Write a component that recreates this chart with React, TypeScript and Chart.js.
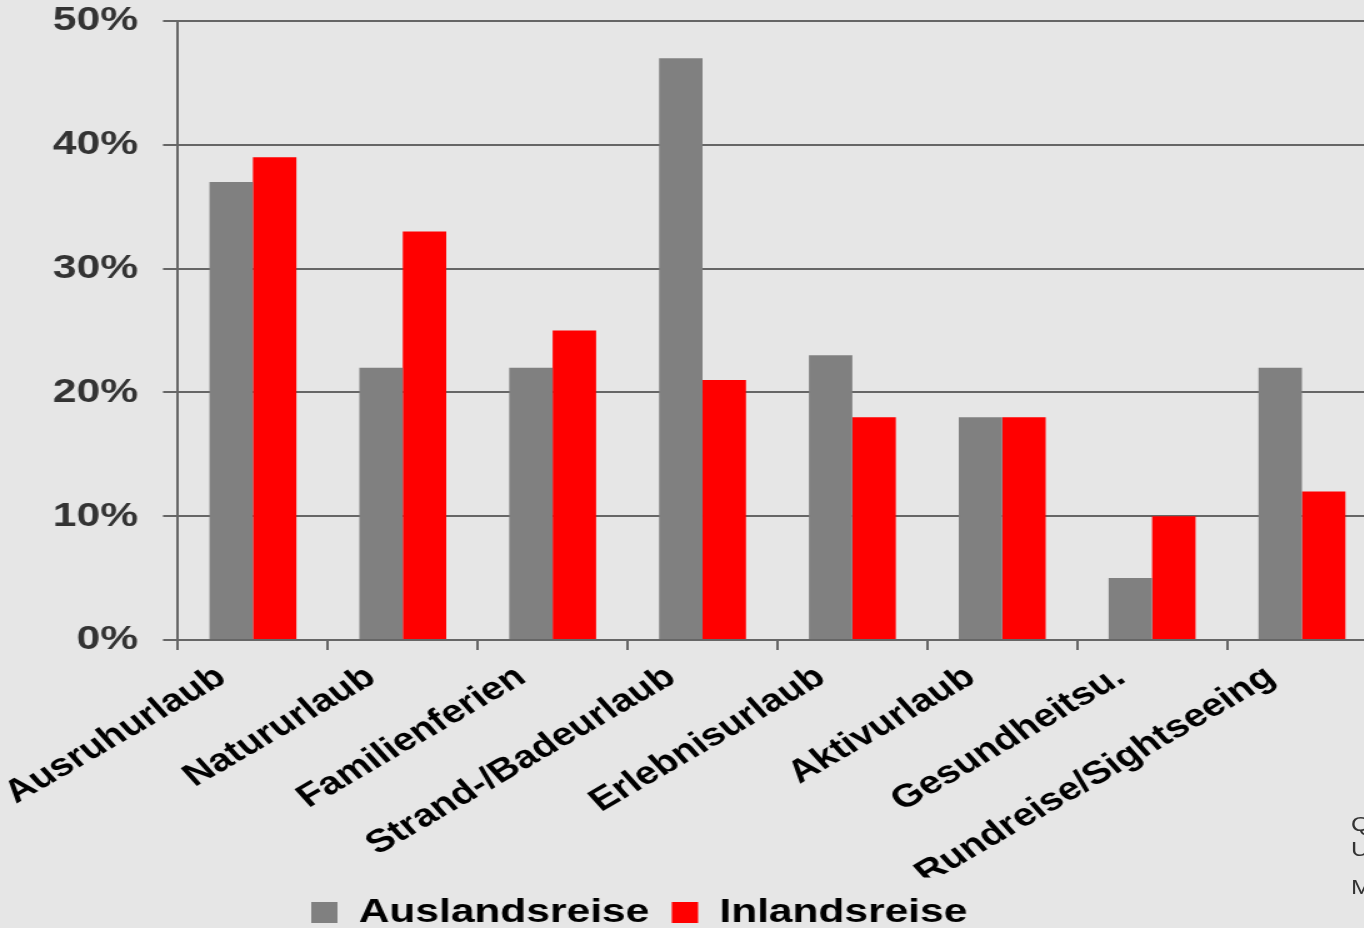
import React, { useEffect, useRef } from "react";
import { Chart, registerables } from "chart.js";

Chart.register(...registerables);

// ---- data ----
const categories = [
  "Ausruhurlaub",
  "Natururlaub",
  "Familienferien",
  "Strand-/Badeurlaub",
  "Erlebnisurlaub",
  "Aktivurlaub",
  "Gesundheitsu.",
  "Rundreise/Sightseeing",
];
const auslandsreise = [37, 22, 22, 47, 23, 18, 5, 22];
const inlandsreise = [39, 33, 25, 21, 18, 18, 10, 12];
const seriesNames = ["Auslandsreise", "Inlandsreise"];
const yTickValues = [0, 10, 20, 30, 40, 50];
const sourceLines = ["Q", "U", "M"];

// ---- layout constants ----
const SX = 1.25; // horizontal stretch of the reference picture
const W = 1110;
const H = 942;
const FONT = "'Liberation Sans', Arial, Helvetica, sans-serif";

export default function App() {
  const ref = useRef<HTMLCanvasElement>(null);

  useEffect(() => {
    const canvas = ref.current;
    if (!canvas) return;

    const legendShift = {
      id: "legendShift",
      afterLayout(chart: any) {
        const lg = chart.legend;
        if (lg) {
          const w = lg.right - lg.left;
          lg.left = 231;
          lg.right = 231 + w;
        }
      },
    };

    const chart = new Chart(canvas, {
      type: "bar",
      data: {
        labels: categories,
        datasets: [
          {
            label: seriesNames[0],
            data: auslandsreise,
            backgroundColor: "#808080",
          },
          {
            label: seriesNames[1],
            data: inlandsreise,
            backgroundColor: "#ff0000",
          },
        ],
      },
      options: {
        responsive: false,
        maintainAspectRatio: false,
        animation: false,
        devicePixelRatio: 1,
        layout: {
          padding: { left: 41.4, right: W - 1101.5, top: 21, bottom: 2.5 },
        },
        datasets: {
          bar: { categoryPercentage: 0.58, barPercentage: 1 },
        },
        plugins: {
          legend: {
            position: "bottom",
            align: "start",
            labels: {
              boxWidth: 21,
              boxHeight: 21,
              padding: 18,
              color: "#000",
              font: { family: FONT, size: 34, weight: "bold" },
            },
          },
          tooltip: { enabled: false },
        },
        scales: {
          x: {
            grid: {
              offset: true,
              drawOnChartArea: false,
              drawTicks: true,
              tickLength: 10,
              color: "#666",
              lineWidth: 2,
            },
            border: { display: true, color: "#666", width: 2 },
            ticks: {
              autoSkip: false,
              minRotation: 36,
              maxRotation: 36,
              labelOffset: -25,
              color: "#000",
              padding: 8,
              font: { family: FONT, size: 32, weight: "bold" },
            },
            afterFit(s: any) {
              s.height = 237.5;
            },
          },
          y: {
            min: 0,
            max: 50,
            afterBuildTicks(s: any) {
              s.ticks = yTickValues.map((v) => ({ value: v }));
            },
            ticks: {
              stepSize: 10,
              callback: (v: any) => v + "%",
              color: "#333",
              padding: 20,
              font: { family: FONT, size: 34, weight: "bold" },
            },
            grid: {
              color: "#666",
              lineWidth: 2,
              tickLength: 12,
              drawTicks: true,
            },
            border: { display: true, color: "#666", width: 2 },
            afterFit(s: any) {
              s.width = 101;
              s.paddingTop = 0;
              s.paddingBottom = 0;
            },
          },
        },
      },
      plugins: [legendShift],
    } as any);

    return () => chart.destroy();
  }, []);

  const srcTops = [817, 842, 880];

  return (
    <div
      style={{
        position: "fixed",
        left: 0,
        top: 0,
        width: 1364,
        height: 928,
        overflow: "hidden",
        background: "#e6e6e6",
      }}
    >
      <div
        style={{
          position: "absolute",
          left: 0,
          top: 0,
          width: W,
          height: H,
          transform: `scaleX(${SX})`,
          transformOrigin: "0 0",
        }}
      >
        <canvas
          ref={ref}
          width={W}
          height={H}
          style={{ width: W, height: H, display: "block" }}
        />
      </div>
      {sourceLines.map((t, i) => (
        <div
          key={i}
          style={{
            position: "absolute",
            left: 1351,
            top: srcTops[i] - 4,
            fontFamily: FONT,
            fontSize: 20,
            lineHeight: "22px",
            color: "#333",
            whiteSpace: "nowrap",
            transform: `scaleX(${SX})`,
            transformOrigin: "0 0",
          }}
        >
          {t}
        </div>
      ))}
    </div>
  );
}
